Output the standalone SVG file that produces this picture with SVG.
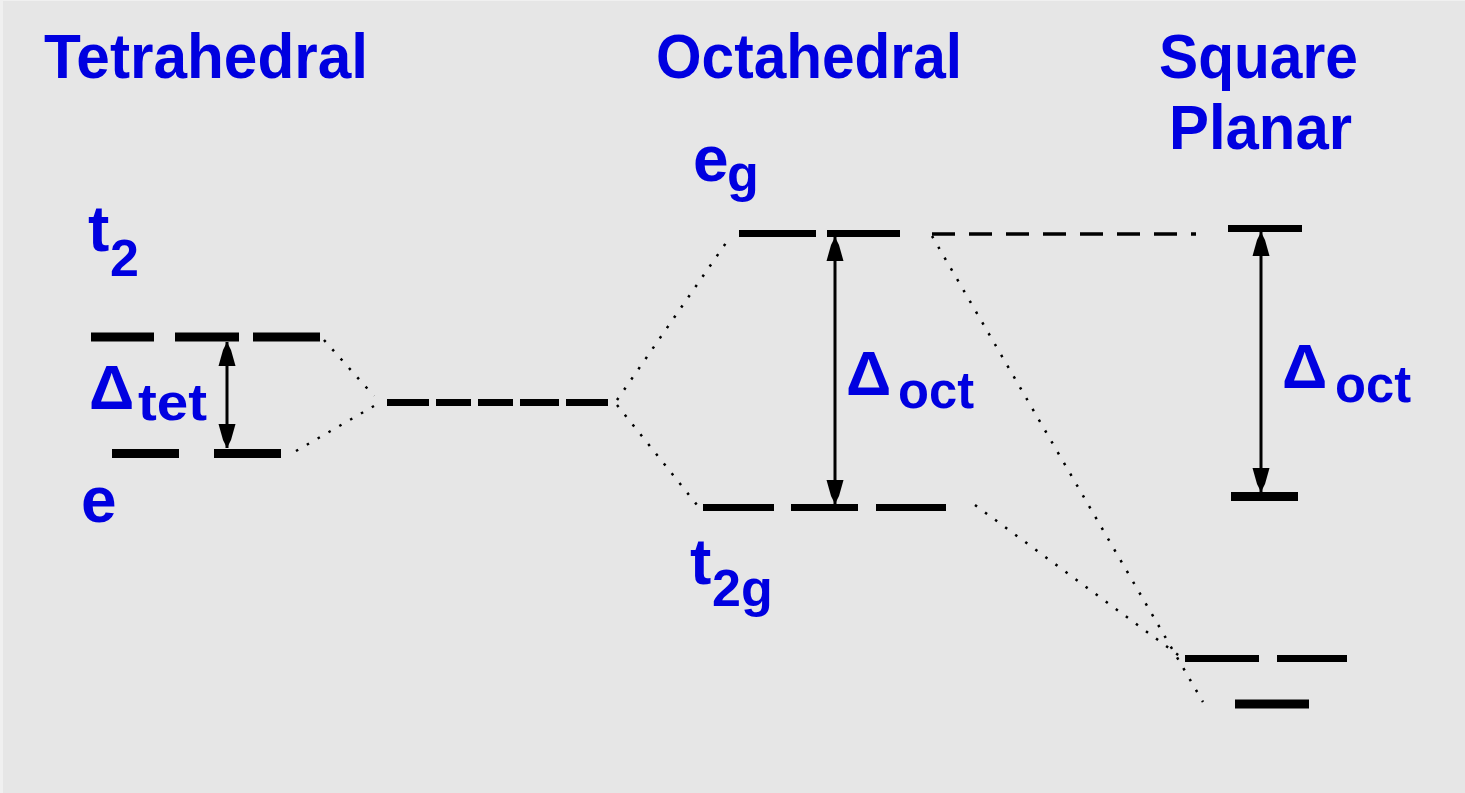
<svg xmlns="http://www.w3.org/2000/svg" width="1465" height="793" viewBox="0 0 1465 793">
<defs>
<style>
.bg{fill:#e6e6e6}
.t{font-family:"Liberation Sans",Arial,sans-serif;font-weight:bold;fill:#0000e0}
.title{font-size:63px}
.lab{font-size:64px}
.sub{font-size:52px}
.lvl{stroke:#000;stroke-width:9;fill:none}
.lvl7{stroke:#000;stroke-width:7;fill:none}
.dash{stroke:#000;stroke-width:3.5;fill:none;stroke-dasharray:23 14}
.dot{stroke:#000;stroke-width:2.5;fill:none;stroke-dasharray:2.5 10}
.arr{stroke:#000;stroke-width:3;fill:none;marker-start:url(#ah);marker-end:url(#ah)}
</style>
<marker id="ah" markerUnits="userSpaceOnUse" markerWidth="28" markerHeight="20" viewBox="-26 -10 28 20" refX="0" refY="0" orient="auto-start-reverse">
<path d="M0,0 L-8,-4 L-24,-8.5 L-24,8.5 L-8,4 Z" fill="#000"/>
</marker>
</defs>
<rect class="bg" x="0" y="0" width="1465" height="793"/>
<rect x="0" y="0" width="3" height="793" fill="#f0f0f0"/>
<rect x="0" y="0" width="1465" height="1" fill="#f0f0f0"/>

<g id="titles">
<text class="t title" x="44" y="78" textLength="324" lengthAdjust="spacingAndGlyphs">Tetrahedral</text>
<text class="t title" x="656" y="78" textLength="306" lengthAdjust="spacingAndGlyphs">Octahedral</text>
<text class="t title" x="1159" y="78" textLength="199" lengthAdjust="spacingAndGlyphs">Square</text>
<text class="t title" x="1169" y="149" textLength="183" lengthAdjust="spacingAndGlyphs">Planar</text>
</g>

<g id="tetrahedral-t2">
<path class="lvl" d="M91,337H154M175,337H239M253,337H320"/>
<text class="t lab" x="88" y="251">t</text>
<text class="t sub" x="110" y="276">2</text>
</g>
<g id="tetrahedral-e">
<path class="lvl" d="M112,453.5H179M214,453.5H281"/>
<text class="t lab" x="81" y="522">e</text>
</g>
<g id="delta-tet">
<text class="t title" x="89" y="409">Δ</text>
<text class="t sub" x="138" y="420" textLength="69" lengthAdjust="spacingAndGlyphs">tet</text>
</g>

<g id="free-ion">
<path class="lvl7" d="M387,402.5H429M436,402.5H471M478,402.5H513M520,402.5H559M566,402.5H608"/>
</g>

<g id="octahedral-eg">
<path class="lvl7" d="M739,233.5H816M827,233.5H900"/>
<text class="t lab" x="693" y="181">e</text>
<text class="t sub" x="727" y="191">g</text>
</g>
<g id="octahedral-t2g">
<path class="lvl7" d="M703,507.5H774M791,507.5H858M876,507.5H946"/>
<text class="t lab" x="690" y="584">t</text>
<text class="t sub" x="712" y="606">2g</text>
</g>
<g id="delta-oct">
<text class="t title" x="846" y="395">Δ</text>
<text class="t sub" x="898" y="408" textLength="76" lengthAdjust="spacingAndGlyphs">oct</text>
</g>

<g id="sp-top">
<path class="lvl7" d="M1228,228.5H1302"/>
</g>
<g id="sp-mid">
<path class="lvl" d="M1231,496.5H1298"/>
</g>
<g id="sp-low2">
<path class="lvl7" d="M1185,658.5H1259M1277,658.5H1347"/>
</g>
<g id="sp-lowest">
<path class="lvl" d="M1235,704H1309"/>
</g>
<g id="delta-oct-sp">
<text class="t title" x="1282" y="388">Δ</text>
<text class="t sub" x="1335" y="402" textLength="76" lengthAdjust="spacingAndGlyphs">oct</text>
</g>

<g id="connectors">
<path class="dot" d="M324,340L374,396"/>
<path class="dot" d="M296,451L374,406"/>
<path class="dot" d="M617,400L728,240"/>
<path class="dot" d="M617,405L697,505"/>
<path class="dot" d="M932,236L1203,702"/>
<path class="dot" d="M975,505L1181,657"/>
<path class="dash" d="M932,234H1196"/>
<path class="arr" d="M227,342V448"/>
<path class="arr" d="M835,237V504"/>
<path class="arr" d="M1261,232V492"/>
</g>
</svg>
